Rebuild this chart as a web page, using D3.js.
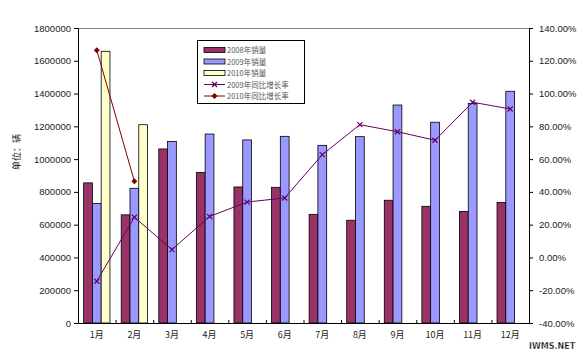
<!DOCTYPE html>
<html><head><meta charset="utf-8">
<script src="https://cdn.jsdelivr.net/npm/d3@7"></script>
<style>body{margin:0;background:#fff}svg{display:block}</style>
</head><body>
<svg id="c" width="585" height="358"></svg>
<script>
const months = ["1月","2月","3月","4月","5月","6月","7月","8月","9月","10月","11月","12月"];
const sales2008 = [855000,660000,1062000,919000,830000,828000,663000,627000,749000,712000,681000,736000];
const sales2009 = [730000,822000,1108000,1153000,1117000,1139000,1084000,1137000,1330000,1225000,1340000,1414000];
const sales2010 = [1658000,1210000];
const growth2009 = [-14.5,24.5,4.8,25.0,33.8,36.3,62.7,81.0,76.7,71.5,94.7,90.6];
const growth2010 = [126.5,46.5];
const leftTicks = [0,200000,400000,600000,800000,1000000,1200000,1400000,1600000,1800000];
const rightTicks = [-40,-20,0,20,40,60,80,100,120,140];
const seriesNames = ["2008年销量","2009年销量","2010年销量","2009年同比增长率","2010年同比增长率"];

const svg = d3.select("#c");
const L = 78, R = 529, T = 28, B = 323;
const x = d3.scaleBand().domain(months).range([L, R]).paddingInner(0).paddingOuter(0);
const xs = d3.scaleBand().domain([0,1,2]).range([0, x.bandwidth()]).paddingInner(0).paddingOuter(0.64);
const yL = d3.scaleLinear().domain([0,1800000]).range([B, T]);
const yR = d3.scaleLinear().domain([-40,140]).range([B, T]);
const font = "'Liberation Sans', Arial, sans-serif";

// top border
svg.append("line").attr("x1",L).attr("x2",R).attr("y1",T+0.5).attr("y2",T+0.5).attr("stroke","#808080");

const bars = [
  {data: sales2008, fill: "#993366", idx: 0},
  {data: sales2009, fill: "#9999FF", idx: 1},
  {data: sales2010, fill: "#FFFFCC", idx: 2}
];
bars.forEach(s => {
  svg.append("g").selectAll("rect").data(s.data).join("rect")
    .attr("x", (d,i) => x(months[i]) + xs(s.idx))
    .attr("y", d => yL(d))
    .attr("width", xs.bandwidth())
    .attr("height", d => B - yL(d))
    .attr("fill", s.fill).attr("stroke", "#000").attr("stroke-width", 0.8);
});

// lines
const cx = i => x(months[i]) + x.bandwidth()/2;
const line = d3.line().x((d,i) => cx(i)).y(d => yR(d));
svg.append("path").datum(growth2009).attr("d", line).attr("fill","none").attr("stroke","#660066").attr("stroke-width",1);
svg.append("g").selectAll("path").data(growth2009).join("path")
  .attr("d", (d,i) => { const px = cx(i), py = yR(d); return `M${px-2.5},${py-2.5}L${px+2.5},${py+2.5}M${px-2.5},${py+2.5}L${px+2.5},${py-2.5}`; })
  .attr("stroke","#660066").attr("stroke-width",1.2);
svg.append("path").datum(growth2010).attr("d", line).attr("fill","none").attr("stroke","#800000").attr("stroke-width",1);
svg.append("g").selectAll("path").data(growth2010).join("path")
  .attr("d", (d,i) => { const px = cx(i), py = yR(d); return `M${px},${py-3}L${px+3},${py}L${px},${py+3}L${px-3},${py}Z`; })
  .attr("fill","#800000");

// axes
const axL = svg.append("g").attr("transform",`translate(${L},0)`)
  .call(d3.axisLeft(yL).tickValues(leftTicks).tickSize(4).tickPadding(3).tickFormat(d3.format("d")));
const axR = svg.append("g").attr("transform",`translate(${R},0)`)
  .call(d3.axisRight(yR).tickValues(rightTicks).tickSize(4).tickPadding(6).tickFormat(d => d.toFixed(2) + "%"));
const axB = svg.append("g").attr("transform",`translate(0,${B})`)
  .call(d3.axisBottom(x).tickSize(0).tickPadding(9));
[axL, axR, axB].forEach(a => {
  a.select(".domain").attr("stroke","#000");
  a.selectAll(".tick line").attr("stroke","#000");
  a.selectAll("text").attr("font-family", font).attr("font-size", 9.5).attr("fill","#222");
});
axB.selectAll("text").attr("font-size", 9).attr("font-family","'Noto Sans CJK SC', sans-serif");
// category boundary ticks (inside)
svg.append("g").selectAll("line").data(months.slice(1)).join("line")
  .attr("x1", d => x(d)+0.5).attr("x2", d => x(d)+0.5).attr("y1", B-3).attr("y2", B).attr("stroke","#000");

// y-axis title
svg.append("text").attr("transform","translate(20,152) rotate(-90)")
  .attr("text-anchor","middle").attr("font-family","'Noto Sans CJK SC', sans-serif")
  .attr("font-size",9).attr("fill","#222").text("单位：辆");

// legend
const lg = svg.append("g").attr("transform","translate(197,40)");
lg.append("rect").attr("x",0.5).attr("y",0.5).attr("width",107).attr("height",63).attr("fill","#fff").attr("stroke","#000");
const legendItems = [
  {type:"rect", fill:"#993366"},
  {type:"rect", fill:"#9999FF"},
  {type:"rect", fill:"#FFFFCC"},
  {type:"lineX", color:"#660066"},
  {type:"lineD", color:"#800000"}
];
legendItems.forEach((it, i) => {
  const yy = 10 + i * 11.5;
  const g = lg.append("g").attr("transform",`translate(0,${yy})`);
  if (it.type === "rect") {
    g.append("rect").attr("x",7).attr("y",-2.5).attr("width",21).attr("height",5).attr("fill",it.fill).attr("stroke","#000").attr("stroke-width",0.8);
  } else {
    g.append("line").attr("x1",7).attr("x2",28).attr("y1",0).attr("y2",0).attr("stroke",it.color);
    if (it.type === "lineX") g.append("path").attr("d","M15,-2.5L20,2.5M15,2.5L20,-2.5").attr("stroke",it.color).attr("stroke-width",1.2);
    else g.append("path").attr("d","M17.5,-3L20.5,0L17.5,3L14.5,0Z").attr("fill",it.color);
  }
  g.append("text").attr("x",30).attr("y",3).attr("font-family","'Noto Sans CJK SC', sans-serif")
    .attr("font-size",7.5).attr("fill","#555").text(seriesNames[i]);
});

// watermark
svg.append("text").attr("x",552).attr("y",349).attr("text-anchor","middle")
  .attr("font-family","'DejaVu Sans', sans-serif").attr("font-weight","bold").attr("font-size",8)
  .attr("fill","#000").attr("stroke","#fff").attr("stroke-width",0.3).text("IWMS.NET");
</script>
</body></html>
